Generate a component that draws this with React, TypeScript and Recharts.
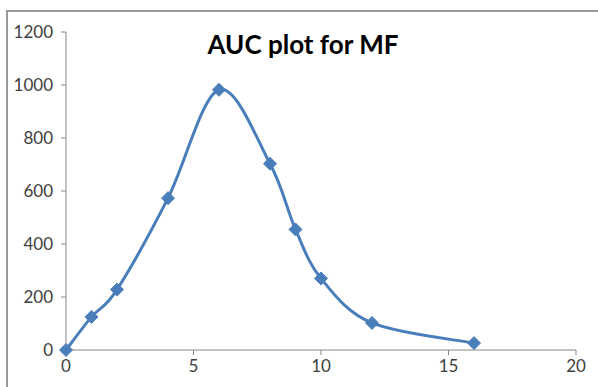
import React from 'react';
import { LineChart, Line, XAxis, YAxis } from 'recharts';

// time points and measured values
const times = [0, 1, 2, 4, 6, 8, 9, 10, 12, 16];
const values = [0, 125, 228, 573, 982, 703, 455, 270, 102, 26];
const xTicks = [0, 5, 10, 15, 20];
const yTicks = [0, 200, 400, 600, 800, 1000, 1200];

const data = times.map((t, i) => ({ t, v: values[i] }));

const BLUE = '#4a7ebb';
const AXIS = '#868686';
const FONT = 'Lato, "Open Sans", sans-serif';

// Catmull-Rom style smoothing, close to a spreadsheet "smoothed line"
function smoothCurve(context: any) {
  let pts: number[][] = [];
  return {
    areaStart() {},
    areaEnd() {},
    lineStart() {
      pts = [];
    },
    point(x: number, y: number) {
      pts.push([+x, +y]);
    },
    lineEnd() {
      if (!pts.length) return;
      context.moveTo(pts[0][0], pts[0][1]);
      for (let i = 0; i < pts.length - 1; i++) {
        const p0 = pts[i - 1] || pts[i];
        const p1 = pts[i];
        const p2 = pts[i + 1];
        const p3 = pts[i + 2] || pts[i + 1];
        context.bezierCurveTo(
          p1[0] + (p2[0] - p0[0]) / 6,
          p1[1] + (p2[1] - p0[1]) / 6,
          p2[0] - (p3[0] - p1[0]) / 6,
          p2[1] - (p3[1] - p1[1]) / 6,
          p2[0],
          p2[1]
        );
      }
    },
  };
}

const Diamond = (props: any) => {
  const { cx, cy } = props;
  if (cx == null || cy == null) return null;
  const r = 6.5;
  return (
    <polygon
      points={`${cx},${cy - r} ${cx + r},${cy} ${cx},${cy + r} ${cx - r},${cy}`}
      fill={BLUE}
      stroke={BLUE}
      strokeWidth={1}
    />
  );
};

export default function App() {
  return (
    <div style={{ position: 'fixed', left: 0, top: 0, width: 598, height: 387, background: '#fff', overflow: 'hidden' }}>
      {/* chart frame, cut off at the right and bottom */}
      <div
        style={{
          position: 'absolute',
          left: 6,
          top: 10,
          width: 620,
          height: 400,
          borderLeft: '2px solid #9a9a9a',
          borderTop: '2px solid #9a9a9a',
        }}
      />
      <div
        style={{
          position: 'absolute',
          left: 0,
          width: 606,
          top: 28,
          textAlign: 'center',
          fontFamily: FONT,
          fontWeight: 700,
          fontSize: 26,
          color: '#000',
          lineHeight: '32px',
        }}
      >
        AUC plot for MF
      </div>
      <div style={{ position: 'absolute', left: 0, top: 0 }}>
        <LineChart width={598} height={387} data={data} margin={{ top: 32, right: 22, left: 0, bottom: 0 }}>
          <XAxis
            type="number"
            dataKey="t"
            domain={[0, 20]}
            ticks={xTicks}
            height={37}
            stroke={AXIS}
            tickSize={5}
            tickMargin={5}
            tick={{ fontSize: 17, fill: '#404040', fontFamily: FONT }}
            tickLine={{ stroke: AXIS }}
          />
          <YAxis
            type="number"
            domain={[0, 1200]}
            ticks={yTicks}
            width={66}
            stroke={AXIS}
            tickSize={5}
            tickMargin={8}
            tick={{ fontSize: 17, fill: '#404040', fontFamily: FONT }}
            tickLine={{ stroke: AXIS }}
          />
          <Line
            dataKey="v"
            type={smoothCurve as any}
            stroke={BLUE}
            strokeWidth={3}
            dot={<Diamond />}
            activeDot={false}
            isAnimationActive={false}
          />
        </LineChart>
      </div>
    </div>
  );
}
